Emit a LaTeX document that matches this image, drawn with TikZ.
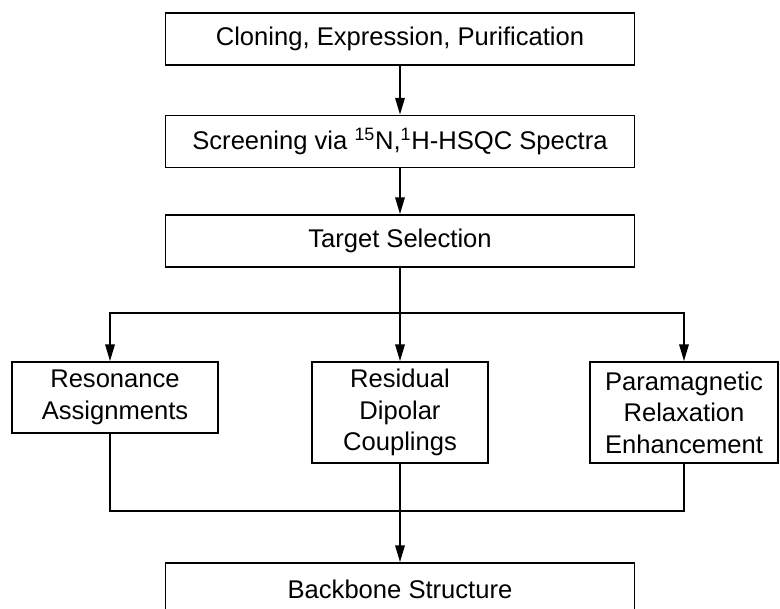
\documentclass[tikz,border=0pt]{standalone}
\usepackage{fontspec}
\setmainfont{Liberation Sans}
\usetikzlibrary{arrows.meta,positioning}

\begin{document}
\begin{tikzpicture}[
  >={Triangle[length=4.2mm,width=2.4mm]},
  stage/.style={draw, line width=1.3pt, minimum width=11.725cm, minimum height=1.3cm, align=center, inner sep=0pt, font=\fontsize{18.2}{22.5}\selectfont},
  method/.style={draw, line width=1.3pt, minimum height=2.525cm, align=center, inner sep=0pt, font=\fontsize{18.2}{22.5}\selectfont},
  wire/.style={->, line width=1.1pt},
  link/.style={line width=1.1pt}
]
\useasboundingbox (0,0) rectangle (19.5,-15.225);
\clip (0,0) rectangle (19.5,-15.225);

% pipeline stages
\node[stage] (clone)  at (10,-0.975)  {Cloning, Expression, Purification};
\node[stage] (screen) at (10,-3.5375) {Screening via \textsuperscript{15}N,\textsuperscript{1}H-HSQC Spectra};
\node[stage] (target) at (10,-6.025)  {Target Selection};

% NMR data sets
\node[method, minimum width=5.15cm, minimum height=1.775cm] (assign) at (2.875,-9.9375) {Resonance\\Assignments};
\node[method, minimum width=4.4cm] (rdc) at (10,-10.3125) {Residual\\Dipolar\\Couplings};
\node[method, minimum width=4.7cm] (pre) at (17.1,-10.3125) {Paramagnetic\\Relaxation\\Enhancement};

% result
\node[stage] (backbone) at (10,-14.725) {Backbone Structure};

% branch and join points
\coordinate (split) at (10,-7.825);
\coordinate (join)  at (10,-12.775);

\draw[wire] (clone) -- (screen);
\draw[wire] (screen) -- (target);
\draw[wire] (target) -- (rdc);
\draw[wire] (split) -| ([xshift=-1.25mm]assign.north);
\draw[wire] (split) -| (pre.north);
\draw[link] ([xshift=-1.25mm]assign.south) |- (join) -| (pre.south);
\draw[wire] (rdc) -- (backbone);
\end{tikzpicture}
\end{document}
